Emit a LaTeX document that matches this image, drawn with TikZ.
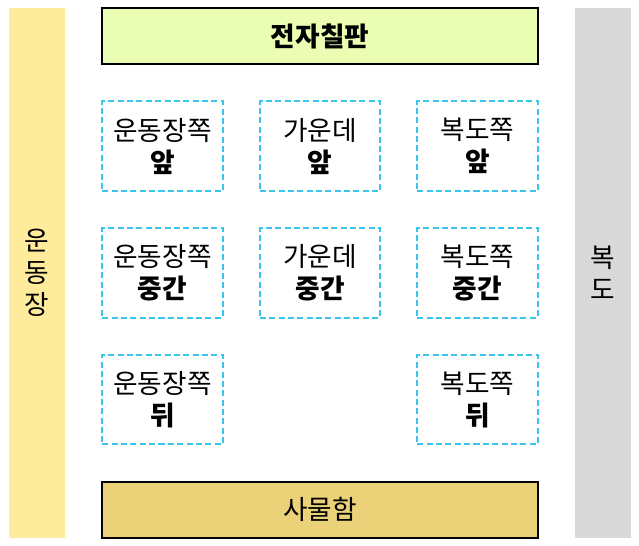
\documentclass[tikz,border=0pt]{standalone}
\usepackage{fontspec}
\setmainfont{Noto Sans CJK KR}
\usepackage{xcolor}
\usepackage{tikz}
\usetikzlibrary{positioning, calc}
\definecolor{fieldyellow}{HTML}{FFEB9C}
\definecolor{hallgray}{HTML}{D9D9D9}
\definecolor{boardgreen}{HTML}{EBFDB2}
\definecolor{lockergold}{HTML}{EBD177}
\definecolor{seatblue}{HTML}{3CC4EE}

\begin{document}
\begin{tikzpicture}[
    node distance=28pt,
    every node/.style={outer sep=0pt, font=\fontsize{20}{24}\selectfont},
    side/.style={
        rectangle, minimum width=42pt, minimum height=397pt,
        inner sep=0pt, align=center
    },
    wall/.style={
        draw=black, line width=1.5pt,
        rectangle, minimum width=326pt, minimum height=42pt,
        inner sep=0pt
    },
    seat/.style={
        draw=seatblue, line width=1.5pt, dash pattern=on 4.5pt off 2.5pt,
        rectangle, minimum width=90pt, minimum height=67pt,
        inner sep=0pt, align=center
    }
]

% board
\node[wall, fill=boardgreen] (board) {\textbf{전자칠판}};

% front row
\node[seat, below=of board.south west, anchor=north west] (fieldfront) {운동장쪽\\\textbf{앞}};
\node[seat, right=of fieldfront] (midfront) {가운데\\\textbf{앞}};
\node[seat, right=of midfront] (hallfront) {복도쪽\\\textbf{앞}};

% middle row
\node[seat, below=of fieldfront] (fieldmid) {운동장쪽\\\textbf{중간}};
\node[seat, right=of fieldmid] (midmid) {가운데\\\textbf{중간}};
\node[seat, right=of midmid] (hallmid) {복도쪽\\\textbf{중간}};

% back row
\node[seat, below=of fieldmid] (fieldback) {운동장쪽\\\textbf{뒤}};
\node[seat, below=of hallmid] (hallback) {복도쪽\\\textbf{뒤}};

% lockers
\node[wall, fill=lockergold, below=of fieldback.south west, anchor=north west] (locker) {사물함};

% sides
\node[side, fill=fieldyellow, left=of board.north west, anchor=north east] (field) {운\\동\\장};
\node[side, fill=hallgray, right=of board.north east, anchor=north west] (hall) {복\\도};

% margins
\path ($(field.north west)+(-6.75pt,6pt)$) rectangle ($(hall.south east)+(6pt,-6pt)$);

\end{tikzpicture}
\end{document}
